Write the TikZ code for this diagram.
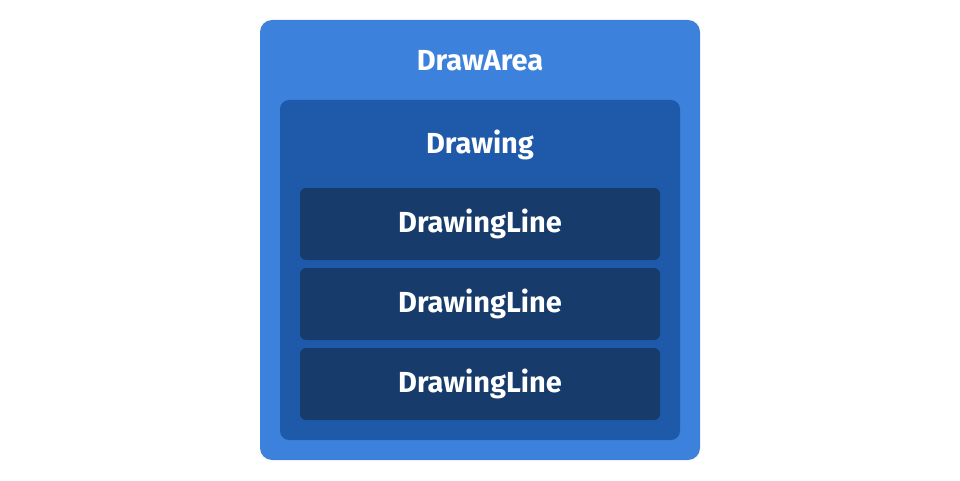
\documentclass[tikz,border=0pt]{standalone}
\usepackage{fontspec}
\setmainfont{Fira Sans}
\usepackage{tikz}

\definecolor{areablue}{HTML}{3C82DC}
\definecolor{drawblue}{HTML}{1F5AAA}
\definecolor{lineblue}{HTML}{173B6B}

\begin{document}
\begin{tikzpicture}[x=1pt, y=1pt,
  every node/.style={outer sep=0pt, inner sep=0pt},
  box/.style={rounded corners=#1, draw=none},
  label/.style={text=white, font=\fontsize{29}{36}\selectfont\bfseries}]
\useasboundingbox (0,0) rectangle (960,480);

\node[box=12pt, fill=areablue, minimum width=440pt, minimum height=440pt] (area) at (480,240) {};
\node[label] (areatitle) at (480,419) {DrawArea};

\node[box=9pt, fill=drawblue, minimum width=400pt, minimum height=340pt] (drawing) at (480,210) {};
\node[label] (drawingtitle) at (480,335) {Drawing};

\foreach \y/\name in {256/lineA, 176/lineB, 96/lineC} {
  \node[box=6pt, fill=lineblue, minimum width=360pt, minimum height=72pt] (\name) at (480,\y) {};
  \node[label] at (\name) {DrawingLine};
}
\end{tikzpicture}
\end{document}
